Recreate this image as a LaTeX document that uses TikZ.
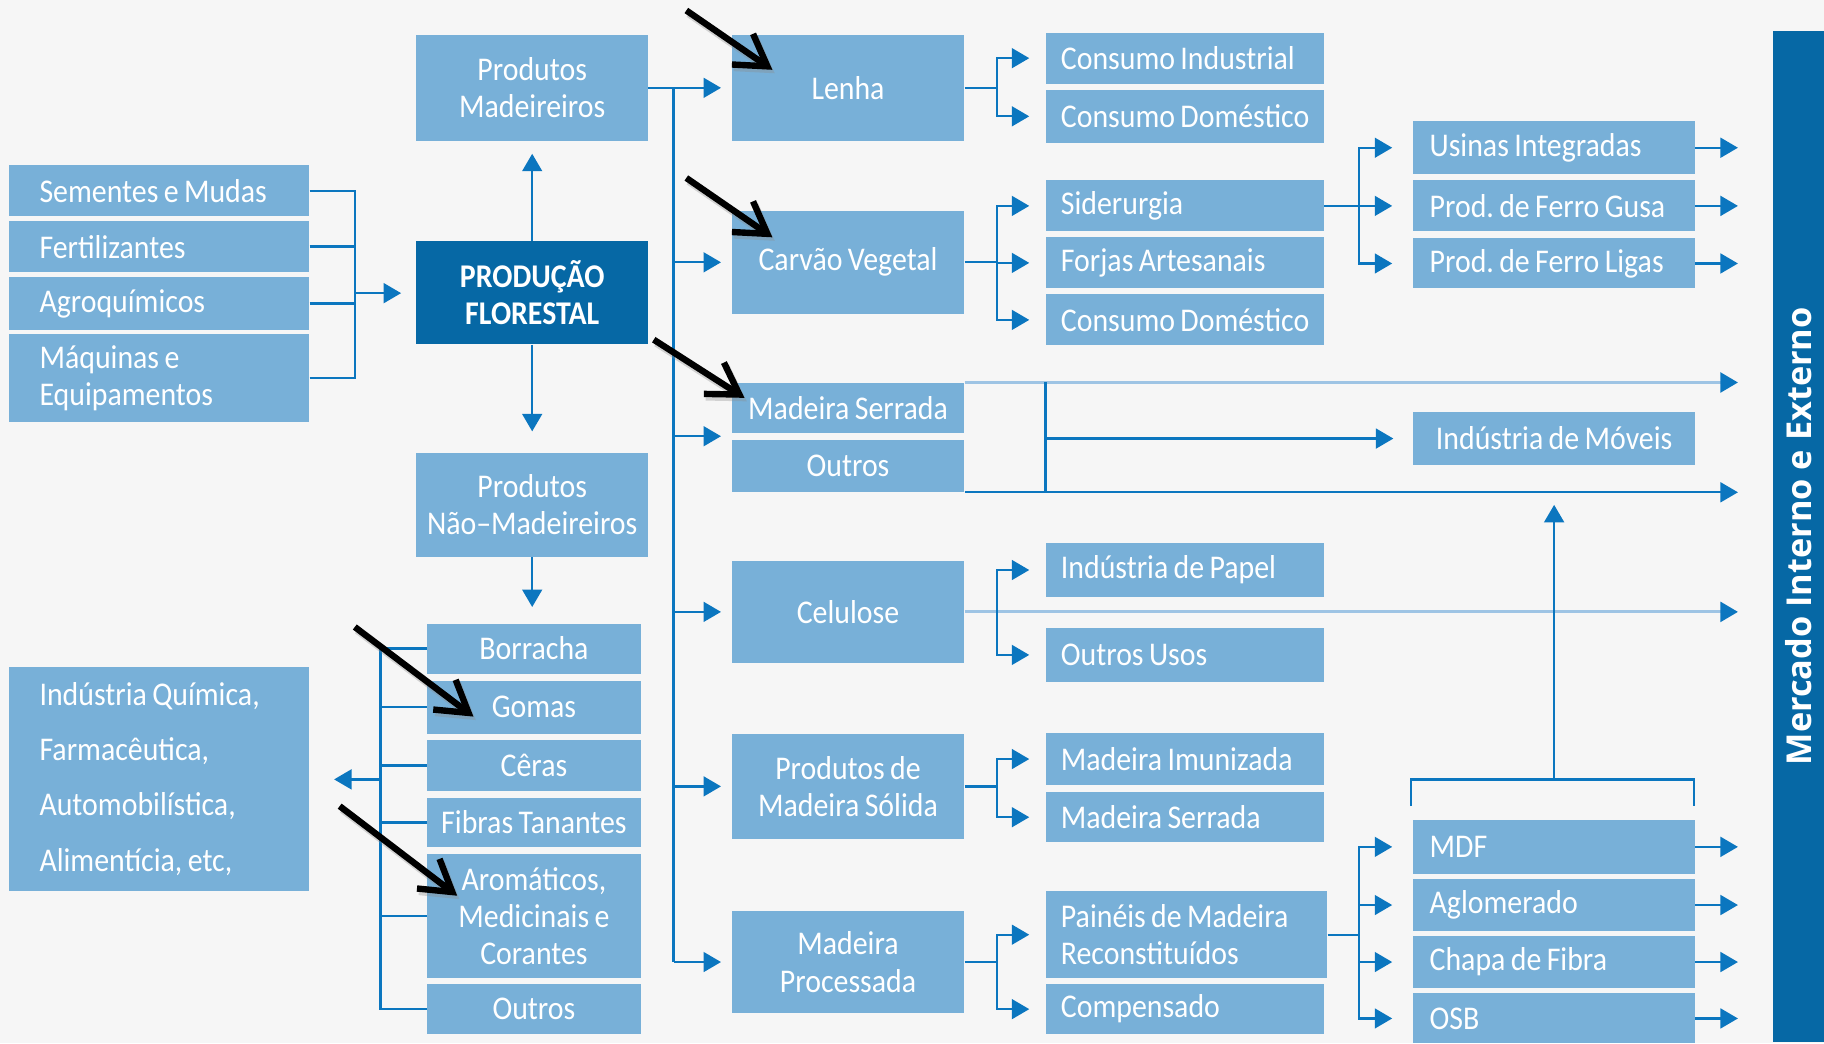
\documentclass[tikz,border=0pt]{standalone}
\usepackage{fontspec}
\setmainfont{Carlito}[FakeStretch=0.9, WordSpace=0.8]
\newfontfamily\mkfont{Open Sans}
\usetikzlibrary{arrows.meta,calc}
\definecolor{bg}{HTML}{F6F6F6}
\definecolor{lb}{HTML}{78B0D8}
\definecolor{db}{HTML}{0668A5}
\definecolor{lc}{HTML}{0B76BF}
\definecolor{ll}{HTML}{9EC4E4}
\frenchspacing
\newcommand\nsp{\spaceskip=0pt\xspaceskip=0pt\relax}
\begin{document}
\begin{tikzpicture}[x=1pt,y=-1pt,
  box/.style={fill=lb, text=white, inner ysep=0pt, font=\fontsize{28.5}{32}\selectfont, align=center},
  cbox/.style={box, inner xsep=0pt},
  dbx/.style={cbox, fill=db, font=\fontsize{28.5}{32}\selectfont\bfseries},
  lft/.style={box, align=left, text width=#1, inner xsep=13pt},
  ln/.style={draw=lc, line width=2pt},
  lnl/.style={draw=ll, line width=2.4pt},
  arr/.style={ln, -{Triangle[length=15pt,width=17pt,color=lc]}},
  arrl/.style={lnl, -{Triangle[length=15pt,width=17pt,color=lc]}},
  blk/.style={draw=black, line width=5.5pt, -{Straight Barb[length=26pt,width=32pt]}},
  blksh/.style={draw=black!45, opacity=0.35, line width=6pt, -{Straight Barb[length=26pt,width=32pt]}}
]
\fill[bg] (0,0) rectangle (1568,897);
\useasboundingbox (0,0) rectangle (1568,897);

% left column
\node[lft=206pt, inner xsep=26pt, minimum height=44pt] (sem) at (137,164) {\nsp\mbox{Sementes e Mudas}};
\node[lft=206pt, inner xsep=26pt, minimum height=44pt] (fer) at (137,212) {\nsp\mbox{Fertilizantes}};
\node[lft=206pt, inner xsep=26pt, minimum height=46pt] (agr) at (137,261) {\nsp\mbox{Agroquímicos}};
\node[lft=206pt, inner xsep=26pt, minimum height=76pt] (maq) at (137,325) {\nsp Máquinas e\\Equipamentos};
\node[lft=206pt, inner xsep=26pt, minimum height=193pt, font=\fontsize{28.5}{47.5}\selectfont] (ind) at (137,669.5) {\nsp Indústria Química,\\Farmacêutica,\\Automobilística,\\Alimentícia, etc,};

% centre column
\node[cbox, minimum width=199pt, minimum height=91pt] (pm) at (457.5,75.5) {Produtos\\Madeireiros};
\node[dbx, minimum width=199pt, minimum height=89pt] (pf) at (457.5,251.5) {PRODUÇÃO\\FLORESTAL};
\node[cbox, minimum width=199pt, minimum height=90pt] (pnm) at (457.5,434) {Produtos\\Não–Madeireiros};
\node[cbox, minimum width=184pt, minimum height=43pt] (bor) at (459,557.5) {Borracha};
\node[cbox, minimum width=184pt, minimum height=46pt] (gom) at (459,608) {Gomas};
\node[cbox, minimum width=184pt, minimum height=44pt] (cer) at (459,658) {Cêras};
\node[cbox, minimum width=184pt, minimum height=42pt] (fib) at (459,707) {Fibras Tanantes};
\node[cbox, minimum width=184pt, minimum height=107pt] (aro) at (459,787.5) {Aromáticos,\\Medicinais e\\Corantes};
\node[cbox, minimum width=184pt, minimum height=43pt] (out1) at (459,867.5) {Outros};

% middle column
\node[cbox, minimum width=200pt, minimum height=91pt] (len) at (729,75.5) {Lenha};
\node[cbox, minimum width=200pt, minimum height=89pt] (car) at (729,225.5) {Carvão Vegetal};
\node[cbox, minimum width=200pt, minimum height=43pt] (ms) at (729,350.5) {Madeira Serrada};
\node[cbox, minimum width=200pt, minimum height=45pt] (out2) at (729,400.5) {Outros};
\node[cbox, minimum width=200pt, minimum height=88pt] (cel) at (729,526) {Celulose};
\node[cbox, minimum width=200pt, minimum height=90pt] (pms) at (729,676) {Produtos de\\Madeira Sólida};
\node[cbox, minimum width=200pt, minimum height=88pt] (mp) at (729,827) {Madeira\\Processada};

% right column 1
\node[lft=213pt, minimum height=44pt] (ci) at (1018.5,50) {\nsp\mbox{Consumo Industrial}};
\node[lft=213pt, minimum height=46pt] (cd1) at (1018.5,100) {\nsp\mbox{Consumo Doméstico}};
\node[lft=213pt, minimum height=44pt] (sid) at (1018.5,177) {\nsp\mbox{Siderurgia}};
\node[lft=213pt, minimum height=44pt] (fa) at (1018.5,226) {\nsp\mbox{Forjas Artesanais}};
\node[lft=213pt, minimum height=44pt] (cd2) at (1018.5,275) {\nsp\mbox{Consumo Doméstico}};
\node[lft=213pt, minimum height=46pt] (ip) at (1018.5,490) {\nsp\mbox{Indústria de Papel}};
\node[lft=213pt, minimum height=46pt] (ou) at (1018.5,563) {\nsp\mbox{Outros Usos}};
\node[lft=213pt, minimum height=45pt] (mi) at (1018.5,652.5) {\nsp\mbox{Madeira Imunizada}};
\node[lft=213pt, minimum height=43pt] (ms2) at (1018.5,702.5) {\nsp\mbox{Madeira Serrada}};
\node[lft=216pt, minimum height=75pt] (pmr) at (1020,803.5) {\nsp Painéis de Madeira\\Reconstituídos};
\node[lft=213pt, minimum height=43pt] (com) at (1018.5,867.5) {\nsp\mbox{Compensado}};

% right column 2
\node[lft=214pt, inner xsep=14pt, minimum height=46pt] (ui) at (1336,127) {\nsp\mbox{Usinas Integradas}};
\node[lft=214pt, inner xsep=14pt, minimum height=44pt] (fg) at (1336,177) {\nsp\mbox{Prod. de Ferro Gusa}};
\node[lft=214pt, inner xsep=14pt, minimum height=43pt] (fl) at (1336,226.5) {\nsp\mbox{Prod. de Ferro Ligas}};
\node[cbox, minimum width=242pt, minimum height=46pt] (im) at (1336,377) {Indústria de Móveis};
\node[lft=214pt, inner xsep=14pt, minimum height=46pt] (mdf) at (1336,728) {\nsp\mbox{MDF}};
\node[lft=214pt, inner xsep=14pt, minimum height=44pt] (agl) at (1336,778) {\nsp\mbox{Aglomerado}};
\node[lft=214pt, inner xsep=14pt, minimum height=44pt] (chf) at (1336,827) {\nsp\mbox{Chapa de Fibra}};
\node[lft=214pt, inner xsep=14pt, minimum height=43pt] (osb) at (1336,875.5) {\nsp\mbox{OSB}};

% market bar
\node[cbox, fill=db, rotate=90, minimum width=869pt, minimum height=44pt, font=\mkfont\fontsize{29.5}{30}\selectfont\bfseries] (mk) at (1546,461) {Mercado Interno e Externo};
\coordinate (mkx) at (1494,0);

% inputs bracket
\coordinate (lbk) at (305,252);
\foreach \n in {sem,fer,agr,maq} \draw[ln] (\n.east) -| (lbk);
\draw[arr, shorten >=13pt] (lbk) -- (lbk -| pf.west);
\draw[arr, shorten >=11pt] (pf.north) -- (pm.south);
\draw[arr, shorten >=18pt] (pf.south) -- (pnm.north);
\draw[arr, shorten >=14pt] (pnm.south) -- (pnm.south |- bor.north);

% non-wood bracket
\coordinate (rbk) at (327,670);
\foreach \n in {bor,gom,cer,fib,aro,out1} \draw[ln] (\n.west) -| (rbk);
\draw[arr, shorten >=21pt] (rbk) -- (rbk -| ind.east);

% trunk
\coordinate (tk) at (579,75.5);
\draw[ln] (pm.east) -- (tk);
\draw[ln] (tk) -- (tk |- mp.west);
\foreach \n in {len,car,cel,pms,mp} \draw[arr, shorten >=9pt] (tk |- \n.west) -- (\n.west);
\coordinate (msg) at ($(ms.south west)!.5!(out2.north west)$);
\draw[arr, shorten >=9pt] (tk |- msg) -- (msg);

% Lenha
\draw[ln] (len.east) -- ++(28,0) coordinate (lnb);
\foreach \n in {ci,cd1} \draw[arr, shorten >=14pt] (lnb) |- (\n.west);
% Carvao
\draw[ln] (car.east) -- ++(28,0) coordinate (cvb);
\foreach \n in {sid,fa,cd2} \draw[arr, shorten >=14pt] (cvb) |- (\n.west);
% Siderurgia
\draw[ln] (sid.east) -- ++(30,0) coordinate (sdb);
\foreach \n in {ui,fg,fl} \draw[arr, shorten >=18pt] (sdb) |- (\n.west);
% to market
\foreach \n in {ui,fg,fl,mdf,agl,chf,osb} \draw[arr] (\n.east) -- (\n.east -| mkx);

% Madeira serrada group
\draw[arrl] (ms.north east) -- (ms.north east -| mkx);
\draw[arr] (out2.south east) -- (out2.south east -| mkx);
\draw[ln] (ms.north east -| ci.west) -- (out2.south east -| ci.west);
\draw[arr, shorten >=17pt] (im.west -| ci.west) -- (im.west);

% Celulose
\draw[arrl] (cel.east) -- (cel.east -| mkx);
\coordinate (clb) at ($(cel.east)+(28,0)$);
\foreach \n in {ip,ou} \draw[arr, shorten >=14pt] (clb) |- (\n.west);
% Produtos de madeira solida
\draw[ln] (pms.east) -- ++(28,0) coordinate (psb);
\foreach \n in {mi,ms2} \draw[arr, shorten >=14pt] (psb) |- (\n.west);
% Madeira processada
\draw[ln] (mp.east) -- ++(28,0) coordinate (mpb);
\foreach \n in {pmr,com} \draw[arr, shorten >=14pt] (mpb) |- (\n.west);
% Paineis
\draw[ln] (pmr.east) -- ++(27,0) coordinate (pnb);
\foreach \n in {mdf,agl,chf,osb} \draw[arr, shorten >=18pt] (pnb) |- (\n.west);

% bracket above MDF and up arrow
\coordinate (bl) at (1213,693);
\coordinate (br) at (1456,693);
\coordinate (bm) at (1336,670);
\coordinate (bt) at (1336,434);
\draw[ln] (bl) -- (bl |- bm) -- (br |- bm) -- (br);
\draw[arr] (bm) -- (bt);

% black annotation arrows
\coordinate (k1a) at (590,9);   \coordinate (k1b) at (664,60);
\coordinate (k2a) at (590,153); \coordinate (k2b) at (664,204);
\coordinate (k3a) at (562,292); \coordinate (k3b) at (640,342);
\coordinate (k4a) at (305,539); \coordinate (k4b) at (407,616);
\coordinate (k5a) at (292,693); \coordinate (k5b) at (393,770);
\foreach \n in {1,...,5} {
  \draw[blksh, transform canvas={shift={(2pt,-3pt)}}] (k\n a) -- (k\n b);
  \draw[blk] (k\n a) -- (k\n b);
}
\end{tikzpicture}
\end{document}
